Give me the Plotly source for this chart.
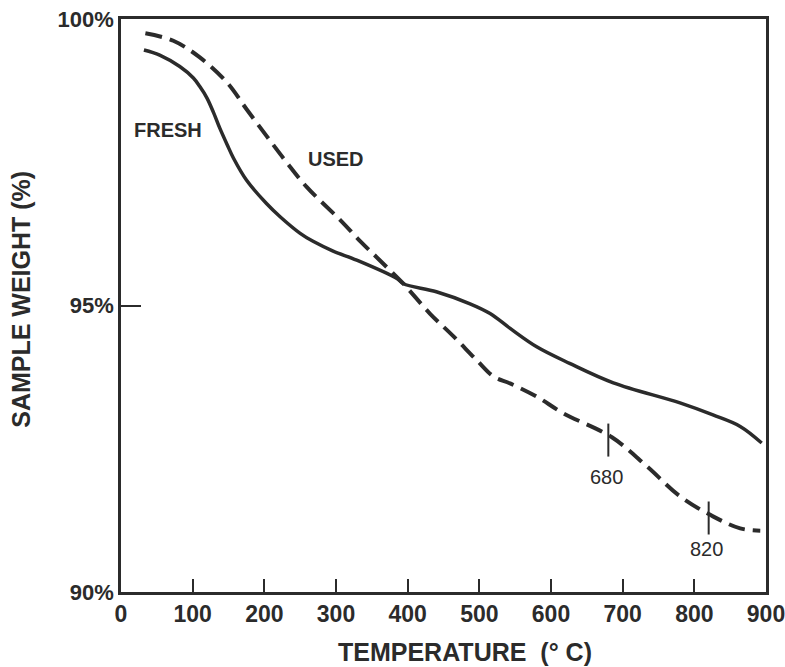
import plotly.graph_objects as go

# Thermogravimetric curves: sample weight (%) vs temperature (deg C)
fresh_temp = [32, 54, 82, 101, 110, 120, 129, 138, 148, 157, 175, 203, 222, 250,
              268, 296, 329, 385, 394, 440, 487, 515, 543, 580, 626, 687, 780,
              826, 864, 894]
fresh_weight = [99.46, 99.37, 99.17, 98.97, 98.82, 98.62, 98.37, 98.09, 97.81, 97.57,
                97.19, 96.78, 96.55, 96.26, 96.12, 95.95, 95.79, 95.47, 95.38, 95.24,
                95.03, 94.86, 94.60, 94.28, 93.99, 93.65, 93.30, 93.09, 92.89, 92.60]

used_temp = [34, 73, 110, 148, 175, 203, 231, 259, 306, 334, 361, 394, 431, 464,
             496, 520, 543, 580, 617, 685, 734, 780, 826, 864, 892]
used_weight = [99.75, 99.62, 99.33, 98.89, 98.43, 97.96, 97.50, 97.07, 96.49, 96.12,
               95.79, 95.38, 94.86, 94.46, 94.05, 93.76, 93.64, 93.41, 93.12, 92.70,
               92.19, 91.67, 91.32, 91.11, 91.07]

# Marked transition temperatures on the used-sample curve
event_temp = [680, 820]
event_weight = [92.73, 91.37]
event_labels = ["680", "820"]
event_label_shift = [-41, -35]

x_ticks = [0, 100, 200, 300, 400, 500, 600, 700, 800, 900]
y_ticks = [90, 95, 100]
y_tick_text = ["90%", "95%", "100%"]

ink = "#2b2b2b"
font_family = "Liberation Sans, Arial, sans-serif"

fig = go.Figure()
fig.add_trace(go.Scatter(x=fresh_temp, y=fresh_weight, mode="lines", name="FRESH",
                         line=dict(color=ink, width=3.5, shape="spline", smoothing=1.0)))
fig.add_trace(go.Scatter(x=used_temp, y=used_weight, mode="lines", name="USED",
                         line=dict(color=ink, width=4, dash="17px,8px",
                                   shape="spline", smoothing=1.0)))

for t, w, lab, dy in zip(event_temp, event_weight, event_labels, event_label_shift):
    fig.add_shape(type="line", xref="x", yref="y",
                  ysizemode="pixel", yanchor=w, x0=t, x1=t, y0=12, y1=-21,
                  line=dict(color=ink, width=2))
    fig.add_annotation(x=t, y=w, text=lab, showarrow=False, yshift=dy, xshift=-2,
                       font=dict(family=font_family, size=20, color=ink))

fig.add_annotation(x=65, y=98.06, text="FRESH", showarrow=False,
                   font=dict(family=font_family, size=20, color=ink, weight="bold"))
fig.add_annotation(x=300, y=97.56, text="USED", showarrow=False,
                   font=dict(family=font_family, size=20, color=ink, weight="bold"))

fig.add_annotation(xref="paper", yref="paper", x=0.533, y=-0.105, text="TEMPERATURE  (° C)",
                   showarrow=False, xanchor="center", yanchor="middle",
                   font=dict(family=font_family, size=25, color=ink, weight="bold"))
fig.add_annotation(xref="paper", yref="paper", x=0, xshift=-100, y=0.51,
                   text="SAMPLE WEIGHT (%)", textangle=-90, showarrow=False,
                   xanchor="center", yanchor="middle",
                   font=dict(family=font_family, size=25, color=ink, weight="bold"))

fig.update_layout(
    width=785, height=667,
    margin=dict(l=121, r=19, t=19, b=75),
    paper_bgcolor="white", plot_bgcolor="white",
    showlegend=False,
    xaxis=dict(range=[0, 900], tickvals=x_ticks, ticks="inside", ticklen=13,
               tickwidth=2, tickcolor=ink, showgrid=False, zeroline=False,
               showline=True, linecolor=ink, linewidth=2.5, mirror=True,
               ticklabeloverflow="allow", automargin=False,
               tickfont=dict(family=font_family, size=23, color=ink, weight="bold")),
    yaxis=dict(range=[90, 100], tickvals=y_ticks, ticktext=y_tick_text,
               ticks="inside", ticklen=20, tickwidth=2, tickcolor=ink,
               showgrid=False, zeroline=False, showline=True, linecolor=ink,
               linewidth=2.5, mirror=True, ticklabeloverflow="allow", automargin=False,
               tickfont=dict(family=font_family, size=22, color=ink, weight="bold")),
)

fig.write_html("out.html")
